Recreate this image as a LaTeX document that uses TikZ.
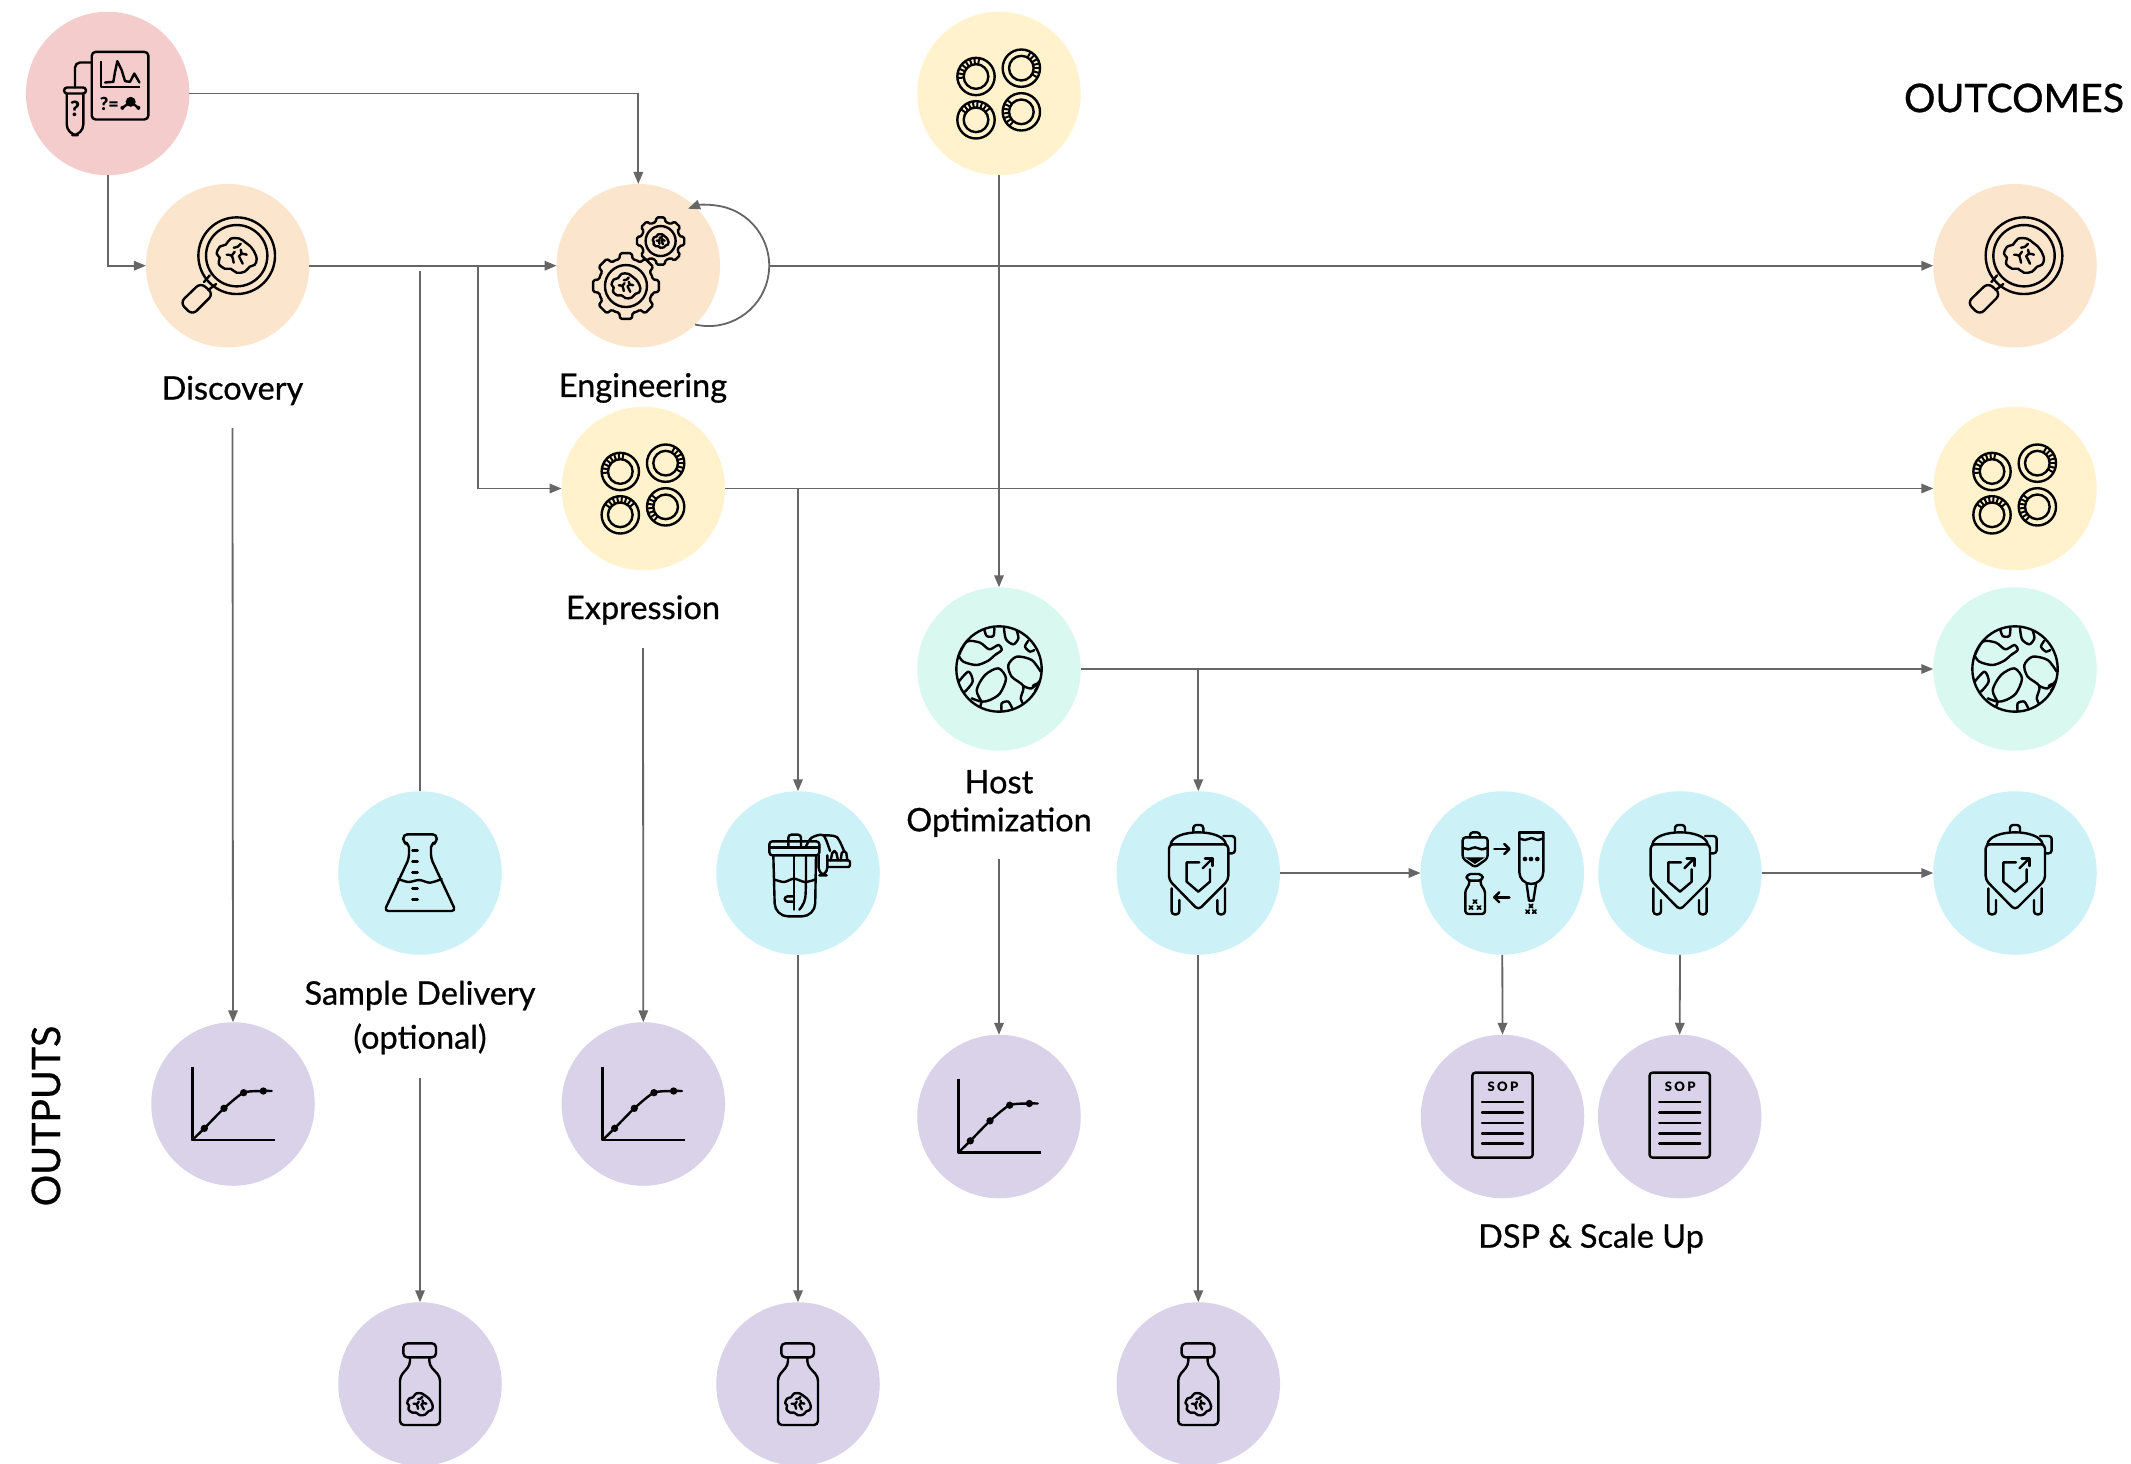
\documentclass[tikz,border=0pt]{standalone}
\usepackage{fontspec}
\usetikzlibrary{arrows.meta}
\setmainfont{Lato}
\newfontfamily\lblfont[FakeBold=0.7]{Lato}
\newfontfamily\blackfont{Lato Black}
\newfontfamily\sopfont[LetterSpace=18]{Lato Black}
\definecolor{cpink}{HTML}{F4CCCC}
\definecolor{cpeach}{HTML}{FCE5CD}
\definecolor{cyellow}{HTML}{FFF2CC}
\definecolor{cmint}{HTML}{D9F9F0}
\definecolor{ccyan}{HTML}{CCF1F7}
\definecolor{cpurple}{HTML}{D9D2E9}
\definecolor{cline}{HTML}{666666}
\newcommand\brainat[3]{%
 \begin{scope}[shift={(#1,#2)},scale=#3]
 \draw[ic] plot[smooth cycle,tension=.6] coordinates {(-60,-6)(-51,-27)(-33,-33)(-18,-51)(9,-51)(27,-39)(42,-27)(51,-15)(60,9)(54,27)(39,33)(24,48)(0,51)(-18,39)(-36,39)(-54,24)(-51,6)};
 \draw[ic] plot[smooth] coordinates {(-9,-24)(3,-27)(12,-36)};
 \draw[ic] plot[smooth] coordinates {(-30,-3)(-15,0)(-9,21)};
 \draw[ic] (-15,0)--(-6,-12);
 \draw[ic] plot[smooth] coordinates {(6,3)(15,-6)(30,-3)};
 \draw[ic] (15,-6)--(12,-18);
 \draw[ic] (9,6)--(18,24);
 \end{scope}}
\newcommand\gearat[5]{%
 \begin{scope}[shift={(#1,#2)}]
 \pgfmathsetmacro\pp{360/#5}
 \draw[ic,rounded corners=1.5pt] ({.32*\pp}:#4) \foreach \i in {1,...,#5}{ -- ({\i*\pp-.32*\pp}:#4) -- ({\i*\pp-.22*\pp}:#3) -- ({\i*\pp+.22*\pp}:#3) -- ({\i*\pp+.32*\pp}:#4) -- ({\i*\pp+.5*\pp}:#4*1.03)} -- cycle;
 \end{scope}}
\newcommand\ringat[6]{%
 \begin{scope}[shift={(#1,#2)}]
 \draw[ic] (0,0) circle[radius=56];
 \draw[ic] (0,0) circle[radius=37];
 \foreach \a in {#3,#4,...,#5} \draw[ic,line width=2pt] (\a:37)--(\a:55);
 \end{scope}}
\newcommand\xm[2]{\draw[ic,line width=1.8pt] (#1-5,#2-5)--(#1+5,#2+5) (#1+5,#2-5)--(#1-5,#2+5);}
\tikzset{
 ic/.style={draw=black,line width=2.4pt,line cap=round,line join=round},
 circ/.style={circle,minimum size=163.5pt,inner sep=0pt,outer sep=0pt,draw=none},
 flow/.style={draw=cline,line width=1.8pt,-{Triangle[length=12pt,width=9.5pt,fill=cline]}},
 plain/.style={draw=cline,line width=1.8pt},
 lab/.style={align=center,inner sep=0pt,outer sep=0pt,font=\lblfont\fontsize{32.5}{38}\selectfont},
 head/.style={inner sep=0pt,outer sep=0pt,font=\lblfont\fontsize{39.3}{44}\selectfont},
 magicon/.pic={\begin{scope}[scale=1/3,shift={(-683,-797)}]
  \draw[ic] (710,767) circle[radius=115];
  \draw[ic] (710,767) circle[radius=92];
  \brainat{710}{767}{1}
  \draw[ic,rounded corners=6pt] (602,848)--(640,882)--(577,945)--(540,908)--cycle;
  \draw[ic] (612,846)--(629,826) (625,870)--(648,852);
 \end{scope}},
 gearicon/.pic={\begin{scope}[scale=1/3,shift={(-295,-287)}]
  \gearat{258}{348}{100}{82}{8}
  \draw[ic] (258,348) circle[radius=63];
  \brainat{258}{348}{.72}
  \gearat{362}{213}{72}{58}{8}
  \draw[ic] (362,213) circle[radius=45];
  \brainat{362}{213}{.4}
 \end{scope}},
 cellicon/.pic={\begin{scope}[scale=1/3,shift={(-310,-955)}]
  \ringat{241}{904}{175}{190}{280}{}
  \ringat{377}{879}{-60}{-45}{40}{}
  \ringat{241}{1034}{215}{230}{325}{}
  \ringat{377}{1010}{130}{145}{220}{}
 \end{scope}},
 globeicon/.pic={\begin{scope}[scale=1/3,shift={(-207,-207)}]
  \draw[ic] (207,207) circle[radius=128];
  \begin{scope}
  \clip (207,207) circle[radius=128];
  \draw[ic] plot[smooth] coordinates {(85,170)(110,125)(150,128)(178,148)(205,135)(215,150)(195,165)(175,182)(140,195)(100,185)(85,165)};
  \draw[ic] plot[smooth] coordinates {(162,85)(170,108)(190,108)(193,85)};
  \draw[ic] plot[smooth] coordinates {(222,85)(228,118)(250,133)(265,115)(260,92)};
  \draw[ic] plot[smooth] coordinates {(295,122)(285,140)(300,155)(313,150)};
  \draw[ic] plot[smooth] coordinates {(332,215)(305,180)(260,170)(235,195)(245,230)(280,258)(272,295)(280,312)};
  \draw[ic] plot[smooth] coordinates {(280,258)(305,265)(332,240)};
  \draw[ic] plot[smooth] coordinates {(308,258)(318,252)(322,262)(315,272)};
  \draw[ic] plot[smooth] coordinates {(155,305)(140,270)(165,225)(205,205)(228,235)(210,280)(180,300)(155,305)(125,295)};
  \draw[ic] (155,305)--(150,322);
  \draw[ic] plot[smooth] coordinates {(82,250)(115,215)(128,245)(105,275)};
  \draw[ic] plot[smooth] coordinates {(215,335)(215,310)(235,305)(248,328)};
  \end{scope}
 \end{scope}},
 tankicon/.pic={\begin{scope}[scale=1/3,shift={(-295,-279)}]
  \draw[ic,rounded corners=3pt] (280,155)--(280,135)--(310,135)--(310,155);
  \draw[ic] (212,193) .. controls (220,145) and (370,145) .. (378,193);
  \draw[ic,rounded corners=4pt] (207,193)--(385,193)--(385,300)--(295,390)--(207,300)--cycle;
  \draw[ic,rounded corners=3pt] (215,325)--(215,403)--(238,403)--(238,360);
  \draw[ic,rounded corners=3pt] (352,360)--(352,403)--(375,403)--(375,325);
  \draw[ic,rounded corners=3pt] (370,168)--(405,168)--(405,220)--(385,220);
  \draw[ic] (298,247)--(260,247)--(260,305)--(295,335)--(330,305)--(330,268);
  \draw[ic] (308,265)--(338,235);
  \draw[ic] (315,235)--(338,235)--(338,258);
 \end{scope}},
 reactoricon/.pic={\begin{scope}[scale=1/3,shift={(-264,-278)}]
  \draw[ic,rounded corners=3pt] (178,183) rectangle (328,225);
  \draw[ic,rounded corners=3pt] (235,200)--(235,163)--(273,163)--(273,200);
  \draw[ic] (178,202)--(328,202);
  \draw[ic,rounded corners=13pt] (190,225)--(195,408)--(315,408)--(318,225);
  \draw[ic] plot[smooth] coordinates {(192,297)(222,305)(252,295)(285,305)(318,297)};
  \draw[ic] (252,225)--(252,388);
  \draw[ic] plot[smooth] coordinates {(288,225)(286,350)(268,388)};
  \draw[ic,rounded corners=3pt] (252,348)--(224,348)--(224,364)--(252,364);
  \draw[ic] plot[smooth] coordinates {(288,198)(305,172)(340,165)(360,212)};
  \draw[ic] plot[smooth] coordinates {(340,165)(380,170)(402,212)};
  \draw[ic,rounded corners=8pt] (326,225)--(326,285)--(352,285)--(352,225);
  \draw[ic,rounded corners=2pt] (355,240)--(420,240)--(420,260)--(355,260);
  \draw[ic,rounded corners=2pt] (362,240)--(368,212)--(378,212)--(384,240);
  \draw[ic,rounded corners=2pt] (392,240)--(396,212)--(408,212)--(412,240);
 \end{scope}},
 dspicon/.pic={\begin{scope}[scale=1/3,shift={(-1207,-279)}]
  \draw[ic,rounded corners=3pt] (1110,172)--(1110,157)--(1140,157)--(1140,172);
  \draw[ic,rounded corners=3pt] (1088,172)--(1163,172)--(1163,235)--(1125,262)--(1088,235)--cycle;
  \draw[ic] plot[smooth] coordinates {(1088,203)(1105,208)(1125,202)(1145,208)(1163,203)};
  \fill[black] (1095,232)--(1155,232)--(1125,252)--cycle;
  \draw[ic] (1183,207)--(1228,207);
  \draw[ic] (1213,192)--(1228,207)--(1213,222);
  \draw[ic] (1258,157)--(1330,157);
  \draw[ic,rounded corners=12pt] (1258,157)--(1258,312)--(1330,312)--(1330,157);
  \draw[ic] plot[smooth] coordinates {(1258,175)(1275,180)(1295,174)(1312,180)(1330,175)};
  \fill[black] (1275,237) circle[radius=7] (1293,237) circle[radius=7] (1312,237) circle[radius=7];
  \draw[ic] (1280,312)--(1287,362)--(1300,362)--(1308,312);
  \xm{1293}{378}\xm{1283}{395}\xm{1303}{395}
  \draw[ic,rounded corners=4pt] (1100,282) rectangle (1148,302);
  \draw[ic,rounded corners=3pt] (1108,302)--(1108,315)--(1096,330)--(1096,402)--(1155,402)--(1155,330)--(1142,315)--(1142,302);
  \xm{1125}{365}\xm{1113}{383}\xm{1137}{383}
  \draw[ic] (1228,352)--(1183,352);
  \draw[ic] (1198,337)--(1183,352)--(1198,367);
 \end{scope}},
 flaskicon/.pic={\begin{scope}[scale=1/3,shift={(-240,-219)}]
  \draw[ic,rounded corners=4pt] (207,175)--(207,130)--(190,130)--(190,103)--(290,103)--(290,130)--(273,130)--(273,175)--(347,333)--(133,333)--cycle;
  \draw[ic] plot[smooth] coordinates {(175,237)(205,246)(238,240)(270,248)(305,237)};
  \foreach \y in {152,185,218,265,298} \draw[ic] (217,\y)--(233,\y);
 \end{scope}},
 charticon/.pic={\begin{scope}[scale=1/3,shift={(-249,-222)}]
  \draw[ic,line cap=butt] (127,110)--(127,330)--(375,330);
  \draw[ic] plot[smooth,tension=.4] coordinates {(127,330)(163,295)(222,235)(281,188)(340,183)(365,183)};
  \fill[black] (163,295) circle[radius=11] (222,235) circle[radius=11] (281,188) circle[radius=11] (340,183) circle[radius=11];
 \end{scope}},
 vialicon/.pic={\begin{scope}[scale=1/3,shift={(-210,-222)}]
  \draw[ic,rounded corners=4pt] (160,100) rectangle (258,142);
  \draw[ic,rounded corners=4pt] (180,142)--(180,165)--(150,200)--(150,345)--(270,345)--(270,200)--(238,165)--(238,142);
  \brainat{210}{283}{.64}
 \end{scope}},
 sopicon/.pic={\begin{scope}[scale=1/3,shift={(-307.5,-259.5)}]
  \draw[ic,rounded corners=3pt] (217,128) rectangle (398,383);
  \node[inner sep=0pt,font=\sopfont\fontsize{13}{13}\selectfont] (sop) at (309,170) {SOP};
  \foreach \y in {216,247,279,310,341} \draw[ic] (246,\y)--(369,\y);
 \end{scope}},
 sampleicon/.pic={\begin{scope}[scale=1/3,shift={(-323,-280)}]
  \draw[ic,rounded corners=4pt] (275,155) rectangle (445,358);
  \draw[ic,line cap=butt] (302,182)--(302,260)--(420,260);
  \draw[ic] (315,247)--(340,245)--(345,215)--(352,183)--(365,210)--(375,243)--(390,245)--(403,220)--(418,247);
  \node[inner sep=0pt,font=\blackfont\fontsize{18}{18}\selectfont] (eq) at (328,310) {?=};
  \fill[black] (392,305) circle[radius=15] (367,323) circle[radius=6] (415,323) circle[radius=6];
  \draw[ic] (367,323)--(392,305)--(415,323);
  \draw[ic,rounded corners=3pt] (192,262) rectangle (258,280);
  \draw[ic,rounded corners=11pt] (200,280)--(200,405)--(250,405)--(250,280);
  \draw[ic,rounded corners=5pt] (225,262)--(225,187)--(275,187);
  \node[inner sep=0pt,font=\blackfont\fontsize{21}{21}\selectfont] (qm) at (225,325) {?};
 \end{scope}}
}
\begin{document}
\begin{tikzpicture}[x=1pt,y=-1pt]
\path[use as bounding box,fill=white] (0,0) rectangle (2131,1464);
% circles
\node[circ,fill=cpink] (sample) at (107.7,93.5) {};
\node[circ,fill=cpeach] (disc) at (227.7,265.7) {};
\node[circ,fill=cpeach] (eng) at (638.3,265.7) {};
\node[circ,fill=cyellow] (expr) at (643.3,488.5) {};
\node[circ,fill=cyellow] (cells) at (999,93.5) {};
\node[circ,fill=cmint] (host) at (999,669) {};
\node[circ,fill=cpeach] (odisc) at (2015,265.7) {};
\node[circ,fill=cyellow] (oexpr) at (2015,488.5) {};
\node[circ,fill=cmint] (ohost) at (2015,669) {};
\node[circ,fill=ccyan] (flask) at (420,873) {};
\node[circ,fill=ccyan] (reactor) at (798,873) {};
\node[circ,fill=ccyan] (tank) at (1198.3,873) {};
\node[circ,fill=ccyan] (dsp) at (1502.3,873) {};
\node[circ,fill=ccyan] (tankb) at (1680,873) {};
\node[circ,fill=ccyan] (otank) at (2015,873) {};
\node[circ,fill=cpurple] (chartd) at (233,1104) {};
\node[circ,fill=cpurple] (charte) at (643.3,1104) {};
\node[circ,fill=cpurple] (charth) at (999,1116.5) {};
\node[circ,fill=cpurple] (sopa) at (1502.5,1116.5) {};
\node[circ,fill=cpurple] (sopb) at (1679.7,1116.5) {};
\node[circ,fill=cpurple] (viala) at (420,1384) {};
\node[circ,fill=cpurple] (vialb) at (798,1384) {};
\node[circ,fill=cpurple] (vialc) at (1198.3,1384) {};
% icons
\pic (isample) at (sample) {sampleicon};
\pic (idisc) at (disc) {magicon};
\pic (ieng) at (eng) {gearicon};
\pic (iexpr) at (expr) {cellicon};
\pic (icells) at (cells) {cellicon};
\pic (ihost) at (host) {globeicon};
\pic (iodisc) at (odisc) {magicon};
\pic (ioexpr) at (oexpr) {cellicon};
\pic (iohost) at (ohost) {globeicon};
\pic (iflask) at (flask) {flaskicon};
\pic (ireactor) at (reactor) {reactoricon};
\pic (itank) at (tank) {tankicon};
\pic (idsp) at (dsp) {dspicon};
\pic (itankb) at (tankb) {tankicon};
\pic (iotank) at (otank) {tankicon};
\pic (ichartd) at (chartd) {charticon};
\pic (icharte) at (charte) {charticon};
\pic (icharth) at (charth) {charticon};
\pic (isopa) at (sopa) {sopicon};
\pic (isopb) at (sopb) {sopicon};
\pic (iviala) at (viala) {vialicon};
\pic (ivialb) at (vialb) {vialicon};
\pic (ivialc) at (vialc) {vialicon};
% labels
\node[lab,minimum height=75pt] (ldisc) at (232.5,390.5) {Discovery};
\node[lab] (leng) at (643,388) {Engineering};
\node[lab,minimum height=76pt] (lexpr) at (643,610) {Expression};
\node[lab,minimum height=111pt] (lhost) at (999,803.5) {Host\\Optimization};
\node[lab,minimum height=121pt,font=\lblfont\fontsize{32.5}{44}\selectfont] (lflask) at (420,1017.5) {Sample Delivery\\(optional)};
\node[lab] (ldsp) at (1591,1238.5) {DSP \& Scale Up};
\node[head] (outcomes) at (2014,98) {OUTCOMES};
\node[head,rotate=90] (outputs) at (46,1116) {OUTPUTS};
% free ends
\coordinate (bdisc) at (478,265.7);
\coordinate (topflask) at (420,271);
\coordinate (bexpr) at (798,488.5);
\coordinate (bhost) at (1198.3,669);
\coordinate (loopr) at (769.5,265.7);
% connectors
\draw[flow] (sample.east) -| (eng.north);
\draw[flow] (sample.south) |- (disc.west);
\draw[flow] (disc.east) -- (eng.west);
\draw[plain] (flask.north) -- (topflask);
\draw[flow] (bdisc) |- (expr.west);
\draw[flow] (eng.-46) arc[start angle=103,end angle=-110,radius=60.5];
\draw[flow] (loopr) -- (odisc.west);
\draw[flow] (expr.east) -- (oexpr.west);
\draw[flow] (bexpr) -- (reactor.north);
\draw[flow] (reactor.south) -- (vialb.north);
\draw[flow] (cells.south) -- (host.north);
\draw[flow] (host.east) -- (ohost.west);
\draw[flow] (bhost) -- (tank.north);
\draw[flow] (tank.south) -- (vialc.north);
\draw[flow] (tank.east) -- (dsp.west);
\draw[flow] (tankb.east) -- (otank.west);
\draw[flow] (dsp.south) -- (sopa.north);
\draw[flow] (tankb.south) -- (sopb.north);
\draw[flow] (ldisc.south) -- (chartd.north);
\draw[flow] (lexpr.south) -- (charte.north);
\draw[flow] (lhost.south) -- (charth.north);
\draw[flow] (lflask.south) -- (viala.north);
\end{tikzpicture}
\end{document}
